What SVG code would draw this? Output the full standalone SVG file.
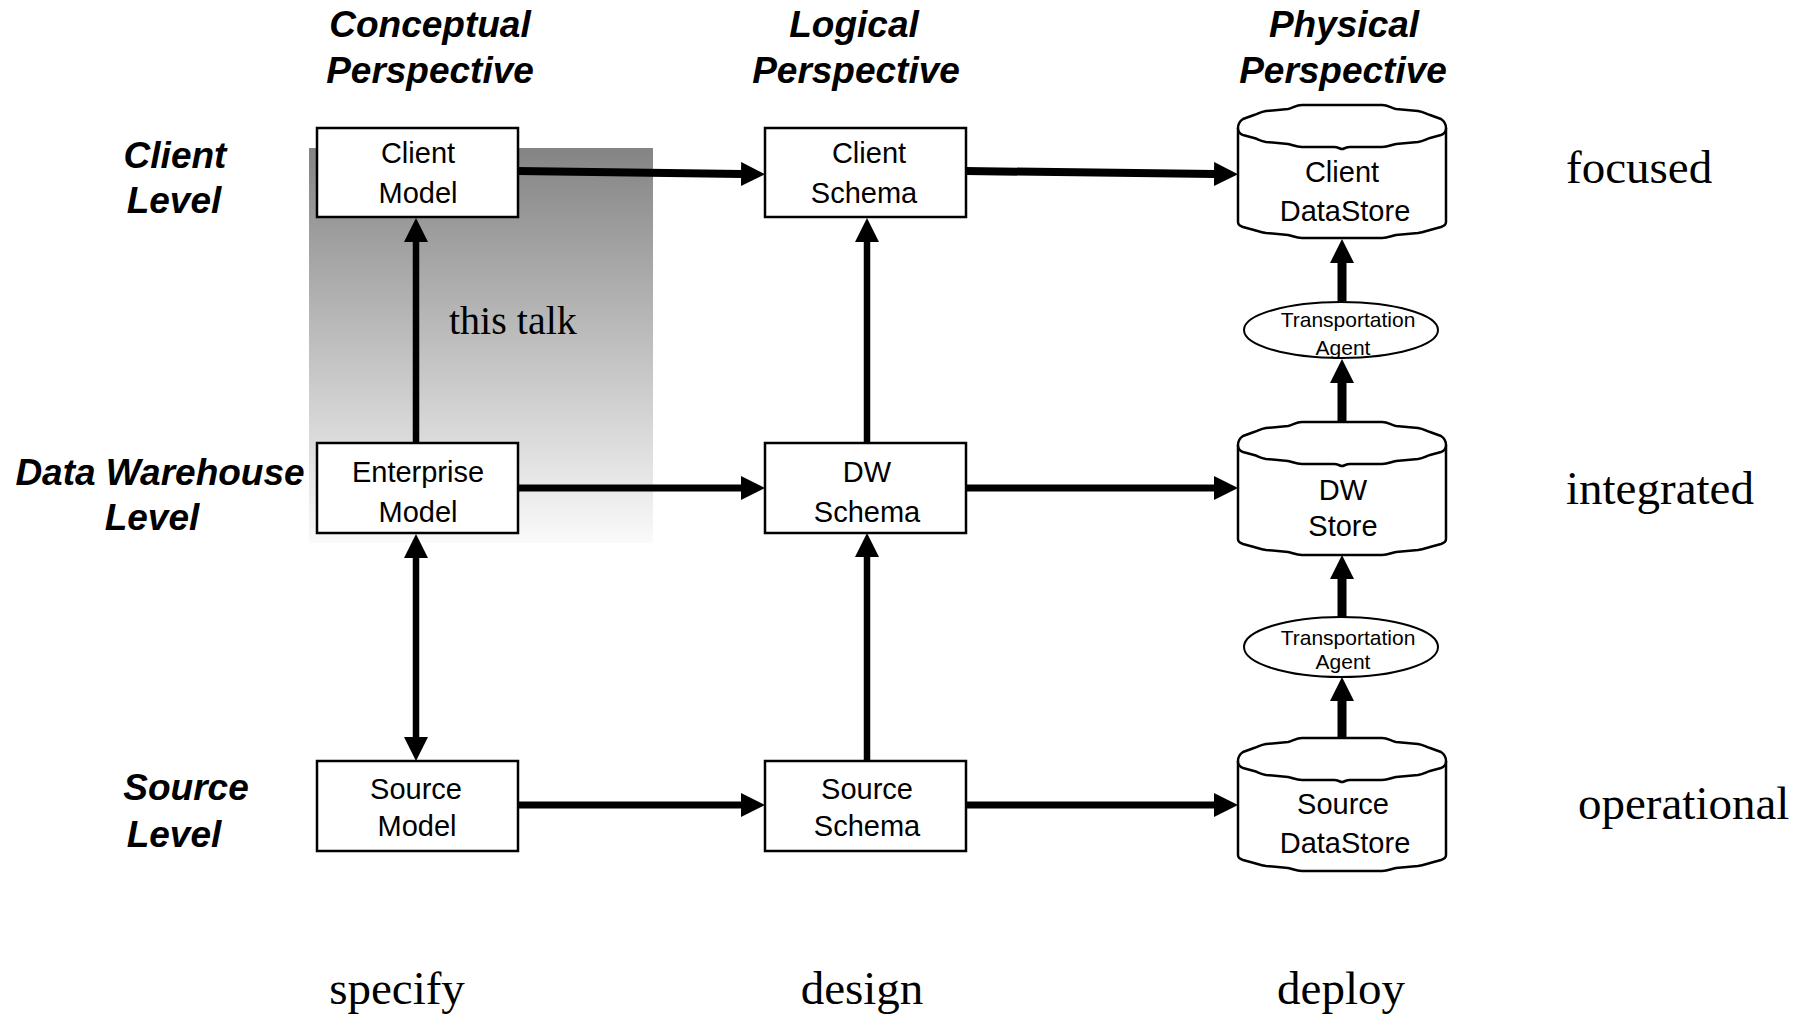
<svg xmlns="http://www.w3.org/2000/svg" width="1814" height="1019" viewBox="0 0 1814 1019">
  <style>
    .box { fill: #ffffff; stroke: #000000; stroke-width: 2.5; }
    .cyl { fill: #ffffff; stroke: #000000; stroke-width: 2.5; stroke-linejoin: round; }
    .agent { fill: #ffffff; stroke: #000000; stroke-width: 2; }
    .lbl { font-family: "Liberation Sans", Arial, sans-serif; font-size: 29px; fill: #000000; text-anchor: middle; }
    .small { font-family: "Liberation Sans", Arial, sans-serif; font-size: 21px; fill: #000000; text-anchor: middle; }
    .head { font-family: "Liberation Sans", Arial, sans-serif; font-size: 37px; font-weight: bold; font-style: italic; fill: #000000; text-anchor: middle; }
    .serif { font-family: "Liberation Serif", "Times New Roman", serif; font-size: 47px; fill: #000000; }
    .conn { stroke: #000000; fill: none; stroke-linecap: butt; }
  </style>
  <defs>
    <linearGradient id="shade" x1="0" y1="0" x2="0" y2="1">
      <stop offset="0" stop-color="#848484"/>
      <stop offset="1" stop-color="#fafafa"/>
    </linearGradient>
    <marker id="arrow" markerUnits="userSpaceOnUse" markerWidth="24" markerHeight="24" viewBox="0 0 24 24" refX="1" refY="12" orient="auto-start-reverse">
      <path d="M0,0 L24,12 L0,24 Z" fill="#000000"/>
    </marker>
    <!-- drum outline for the data stores, 208 x 133 -->
    <g id="drum">
      <path class="cyl" d="M0,23 C0,19 2,16 5,14 L16,10 C20,9 22,7 28,6 L50,4 C55,3 58,0 64,0 L144,0 C150,0 153,3 158,4 L180,6 C186,7 188,9 192,10 L203,14 C206,16 208,19 208,23 L208,117 C208,120 206,121 203,122 L192,125 C188,126 186,127 180,128 L158,130 C153,131 150,133 144,133 L64,133 C58,133 55,131 50,130 L28,128 C22,127 20,126 16,125 L5,122 C2,121 0,120 0,117 Z"/>
      <path class="cyl" fill="none" d="M0,23 C0,27 2,29 5,30 L16,33 C20,34 22,36 28,37 L50,39 C55,40 58,42 64,42 L96,42 C100,42 102,44 104,44 C106,44 108,42 112,42 L144,42 C150,42 153,40 158,39 L180,37 C186,36 188,34 192,33 L203,30 C206,29 208,27 208,23"/>
    </g>
  </defs>

  <rect width="1814" height="1019" fill="#ffffff"/>

  <!-- shaded scope area -->
  <rect x="309" y="148" width="344" height="395" fill="url(#shade)"/>
  <text class="serif" x="449" y="334" style="font-size:40px">this talk</text>

  <!-- column headers -->
  <text class="head" x="430" y="37">Conceptual</text>
  <text class="head" x="430" y="83">Perspective</text>
  <text class="head" x="854" y="37">Logical</text>
  <text class="head" x="856" y="83">Perspective</text>
  <text class="head" x="1344" y="37">Physical</text>
  <text class="head" x="1343" y="83">Perspective</text>

  <!-- row headers -->
  <text class="head" x="175" y="168">Client</text>
  <text class="head" x="174" y="213">Level</text>
  <text class="head" x="160" y="485">Data Warehouse</text>
  <text class="head" x="152" y="530">Level</text>
  <text class="head" x="186" y="800">Source</text>
  <text class="head" x="174" y="847">Level</text>

  <!-- connectors -->
  <g id="connectors" class="conn" marker-end="url(#arrow)">
    <line x1="518" y1="171" x2="742" y2="174" stroke-width="8"/>
    <line x1="966" y1="171" x2="1215" y2="174" stroke-width="8"/>
    <line x1="518" y1="488" x2="742" y2="488" stroke-width="7"/>
    <line x1="966" y1="488" x2="1215" y2="488" stroke-width="7"/>
    <line x1="518" y1="805" x2="742" y2="805" stroke-width="7"/>
    <line x1="966" y1="805" x2="1215" y2="805" stroke-width="7"/>
    <line x1="416" y1="443" x2="416" y2="241" stroke-width="6.5"/>
    <line x1="416" y1="557" x2="416" y2="738" stroke-width="6.5" marker-start="url(#arrow)"/>
    <line x1="867" y1="443" x2="867" y2="241" stroke-width="6.5"/>
    <line x1="867" y1="761" x2="867" y2="556" stroke-width="6.5"/>
    <line x1="1342" y1="301" x2="1342" y2="262" stroke-width="9"/>
    <line x1="1342" y1="423" x2="1342" y2="382" stroke-width="9"/>
    <line x1="1342" y1="617" x2="1342" y2="578" stroke-width="9"/>
    <line x1="1342" y1="738" x2="1342" y2="700" stroke-width="9"/>
  </g>

  <!-- conceptual models -->
  <g id="client-model">
    <rect class="box" x="317" y="128" width="201" height="89"/>
    <text class="lbl" x="418" y="163">Client</text>
    <text class="lbl" x="418" y="203">Model</text>
  </g>
  <g id="enterprise-model">
    <rect class="box" x="317" y="443" width="201" height="90"/>
    <text class="lbl" x="418" y="482">Enterprise</text>
    <text class="lbl" x="418" y="522">Model</text>
  </g>
  <g id="source-model">
    <rect class="box" x="317" y="761" width="201" height="90"/>
    <text class="lbl" x="416" y="799">Source</text>
    <text class="lbl" x="417" y="836">Model</text>
  </g>

  <!-- logical schemas -->
  <g id="client-schema">
    <rect class="box" x="765" y="128" width="201" height="89"/>
    <text class="lbl" x="869" y="163">Client</text>
    <text class="lbl" x="864" y="203">Schema</text>
  </g>
  <g id="dw-schema">
    <rect class="box" x="765" y="443" width="201" height="90"/>
    <text class="lbl" x="867" y="482">DW</text>
    <text class="lbl" x="867" y="522">Schema</text>
  </g>
  <g id="source-schema">
    <rect class="box" x="765" y="761" width="201" height="90"/>
    <text class="lbl" x="867" y="799">Source</text>
    <text class="lbl" x="867" y="836">Schema</text>
  </g>

  <!-- physical stores -->
  <g id="client-datastore">
    <use href="#drum" x="1238" y="105"/>
    <text class="lbl" x="1342" y="182">Client</text>
    <text class="lbl" x="1345" y="221">DataStore</text>
  </g>
  <g id="dw-store">
    <use href="#drum" x="1238" y="422"/>
    <text class="lbl" x="1343" y="500">DW</text>
    <text class="lbl" x="1343" y="536">Store</text>
  </g>
  <g id="source-datastore">
    <use href="#drum" x="1238" y="738"/>
    <text class="lbl" x="1343" y="814">Source</text>
    <text class="lbl" x="1345" y="853">DataStore</text>
  </g>

  <!-- transportation agents -->
  <g id="agent-upper">
    <ellipse class="agent" cx="1341" cy="330" rx="97" ry="28"/>
    <text class="small" x="1348" y="327">Transportation</text>
    <text class="small" x="1343" y="355">Agent</text>
  </g>
  <g id="agent-lower">
    <ellipse class="agent" cx="1341" cy="647" rx="97" ry="30"/>
    <text class="small" x="1348" y="645">Transportation</text>
    <text class="small" x="1343" y="669">Agent</text>
  </g>

  <!-- level characteristics -->
  <text class="serif" x="1566" y="183">focused</text>
  <text class="serif" x="1566" y="504">integrated</text>
  <text class="serif" x="1578" y="819">operational</text>

  <!-- activities -->
  <text class="serif" x="397" y="1004" text-anchor="middle">specify</text>
  <text class="serif" x="862" y="1004" text-anchor="middle">design</text>
  <text class="serif" x="1341" y="1004" text-anchor="middle">deploy</text>
</svg>
